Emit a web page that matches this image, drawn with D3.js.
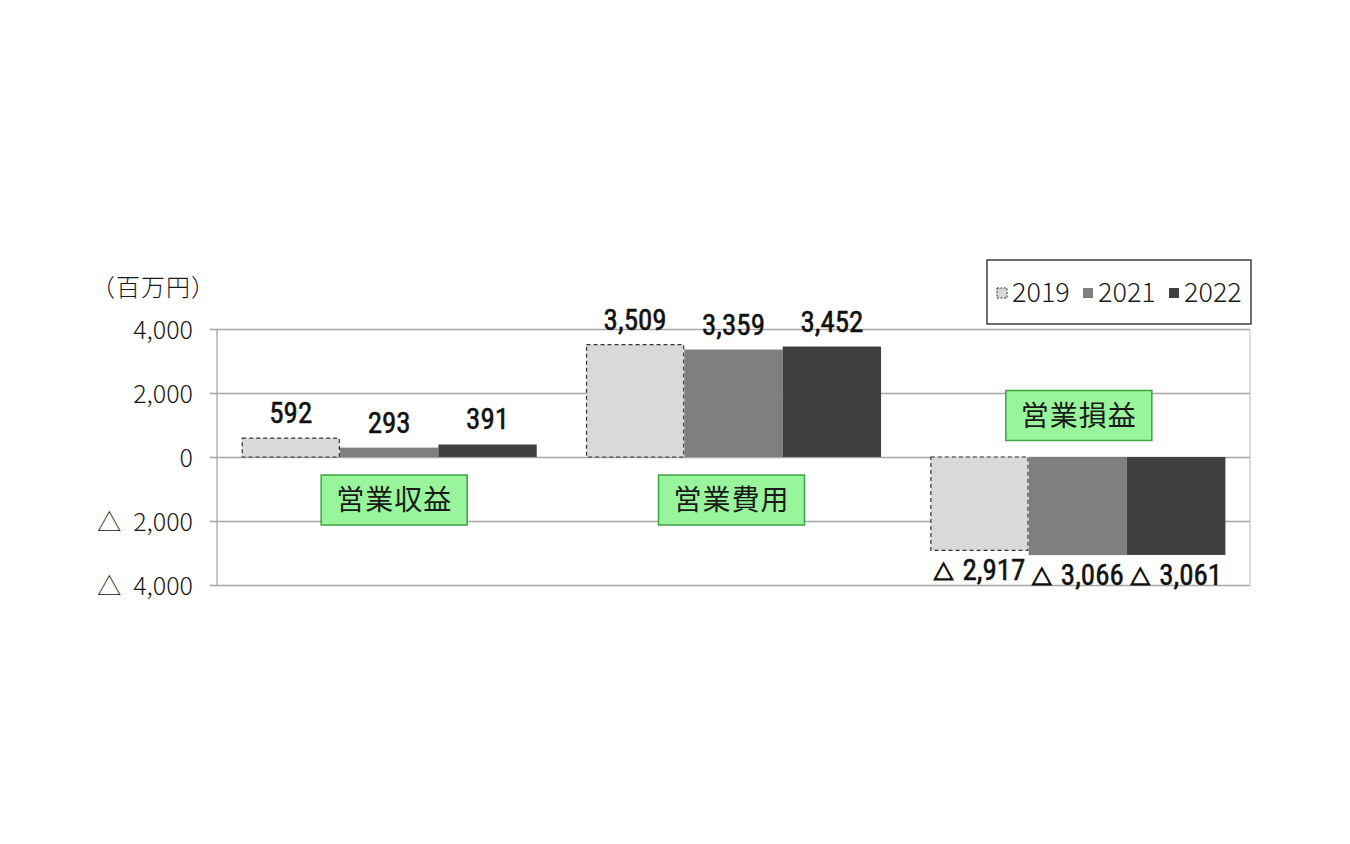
<!DOCTYPE html>
<html><head><meta charset="utf-8">
<script src="https://cdn.jsdelivr.net/npm/d3@7"></script>
<style>
html,body{margin:0;padding:0;background:#fff;}
svg{display:block;}
</style></head>
<body>
<svg id="chart" width="1350" height="844"></svg>
<script>
const categories = ["営業収益", "営業費用", "営業損益"];
const seriesNames = ["2019", "2021", "2022"];
const values2019 = [592, 3509, -2917];
const values2021 = [293, 3359, -3066];
const values2022 = [391, 3452, -3061];
const tickValues = [4000, 2000, 0, -2000, -4000];
const tickLabels = ["4,000", "2,000", "0", "△ 2,000", "△ 4,000"];
const unitLabel = "（百万円）";

const seriesValues = [values2019, values2021, values2022];
const colors = {"2019": "#d9d9d9", "2021": "#7f7f7f", "2022": "#404040"};

const svg = d3.select("#chart");
const L = 217, R = 1250, T = 329, B = 585;
const jp = "'Noto Sans CJK JP','Noto Sans',sans-serif";
const narrow = "'Liberation Sans Narrow','Arial Narrow','Roboto Condensed','Liberation Sans',sans-serif";

const x0 = d3.scaleBand().domain(categories).range([L, R]).paddingInner(0).paddingOuter(0);
const x1 = d3.scaleBand().domain(seriesNames).range([0, x0.bandwidth()]).paddingInner(0).paddingOuter(0.25);
const y = d3.scaleLinear().domain([-4000, 4000]).range([B, T]);

// gridlines + tick labels
const yAxis = d3.axisLeft(y).tickValues(tickValues).tickSize(-(R - L)).tickSizeOuter(0)
  .tickFormat(() => "").tickPadding(24);
const gAxis = svg.append("g").attr("transform", `translate(${L},0)`).call(yAxis);
gAxis.select(".domain").remove();
gAxis.selectAll(".tick line").attr("stroke", "#a6a6a6").attr("stroke-width", 1.3).attr("x1", -7);
gAxis.selectAll(".tick text").each(function(d, i) {
  const t = d3.select(this).attr("font-family", jp).attr("font-size", 25).attr("fill", "#1a1a1a")
    .attr("dy", "0.36em").attr("font-weight", 300);
  const lab = tickLabels[i];
  if (lab.startsWith("△")) {
    t.append("tspan").attr("font-size", 24).text("△");
    t.append("tspan").attr("dx", 12).text(lab.slice(2));
  } else {
    t.text(lab);
  }
});
// axis line
svg.append("line").attr("x1", L).attr("x2", L).attr("y1", y(4000)).attr("y2", y(-4000))
  .attr("stroke", "#a6a6a6").attr("stroke-width", 1.3);
// right border
svg.append("line").attr("x1", R).attr("x2", R).attr("y1", y(4000)).attr("y2", y(-4000))
  .attr("stroke", "#cccccc").attr("stroke-width", 1.3);

// unit label
svg.append("text").attr("x", 91).attr("y", 296).text(unitLabel)
  .attr("font-family", jp).attr("font-size", 24).attr("fill", "#1a1a1a").attr("font-weight", 300)
  .attr("letter-spacing", "1px");

// bars
const groups = svg.selectAll("g.cat").data(categories).join("g")
  .attr("class", "cat").attr("transform", d => `translate(${x0(d)},0)`);

groups.each(function(cat, ci) {
  const g = d3.select(this);
  seriesNames.forEach((s, si) => {
    const v = seriesValues[si][ci];
    const rect = g.append("rect")
      .attr("x", x1(s)).attr("width", x1.bandwidth())
      .attr("y", y(Math.max(0, v))).attr("height", Math.abs(y(v) - y(0)))
      .attr("fill", colors[s]);
    if (s === "2019") {
      rect.attr("stroke", "#333").attr("stroke-width", 1.2).attr("stroke-dasharray", "4,3")
        .attr("x", x1(s) + 0.6).attr("width", x1.bandwidth() - 1.2);
    }
    const t = g.append("text")
      .attr("x", x1(s) + x1.bandwidth() / 2)
      .attr("y", v >= 0 ? y(v) - 15 : y(v) + 30)
      .attr("text-anchor", "middle")
      .attr("font-family", narrow).attr("font-size", 29)
      .attr("fill", "#111").attr("stroke", "#111").attr("stroke-width", 0.5);
    if (v < 0) {
      t.append("tspan").attr("font-family", jp).attr("font-size", 20)
        .attr("stroke-width", 1.3).text("△");
      t.append("tspan").attr("dx", 9).text(d3.format(",")(-v));
    } else {
      t.text(d3.format(",")(v));
    }
  });
});

// category label boxes (annotations)
const boxCenterVal = [-1344, -1344, 1297];
const boxOffset = [5, -2, 1];
categories.forEach((c, i) => {
  const cx = x0(c) + x0.bandwidth() / 2 + boxOffset[i];
  const cy = y(boxCenterVal[i]);
  const w = 146, h = 50;
  svg.append("rect").attr("x", cx - w / 2).attr("y", cy - h / 2).attr("width", w).attr("height", h)
    .attr("fill", "#99f59b").attr("stroke", "#3fa33f").attr("stroke-width", 1.5);
  svg.append("text").attr("x", cx).attr("y", cy).attr("dy", "0.36em")
    .attr("text-anchor", "middle").attr("font-family", jp).attr("font-size", 28)
    .attr("letter-spacing", "1px").attr("fill", "#1a1a1a").text(c);
});

// legend
const lg = svg.append("g");
lg.append("rect").attr("x", 987).attr("y", 260).attr("width", 264).attr("height", 64)
  .attr("fill", "#fff").attr("stroke", "#222").attr("stroke-width", 1.3);
const legX = [997, 1083, 1169];
seriesNames.forEach((s, i) => {
  const m = lg.append("rect").attr("x", legX[i]).attr("y", 288).attr("width", 10).attr("height", 10)
    .attr("fill", colors[s]);
  if (s === "2019") m.attr("stroke", "#333").attr("stroke-width", 1).attr("stroke-dasharray", "2,1.5");
  lg.append("text").attr("x", legX[i] + 15).attr("y", 302).text(s)
    .attr("font-family", jp).attr("font-size", 27).attr("fill", "#1a1a1a").attr("font-weight", 300);
});
</script>
</body></html>
